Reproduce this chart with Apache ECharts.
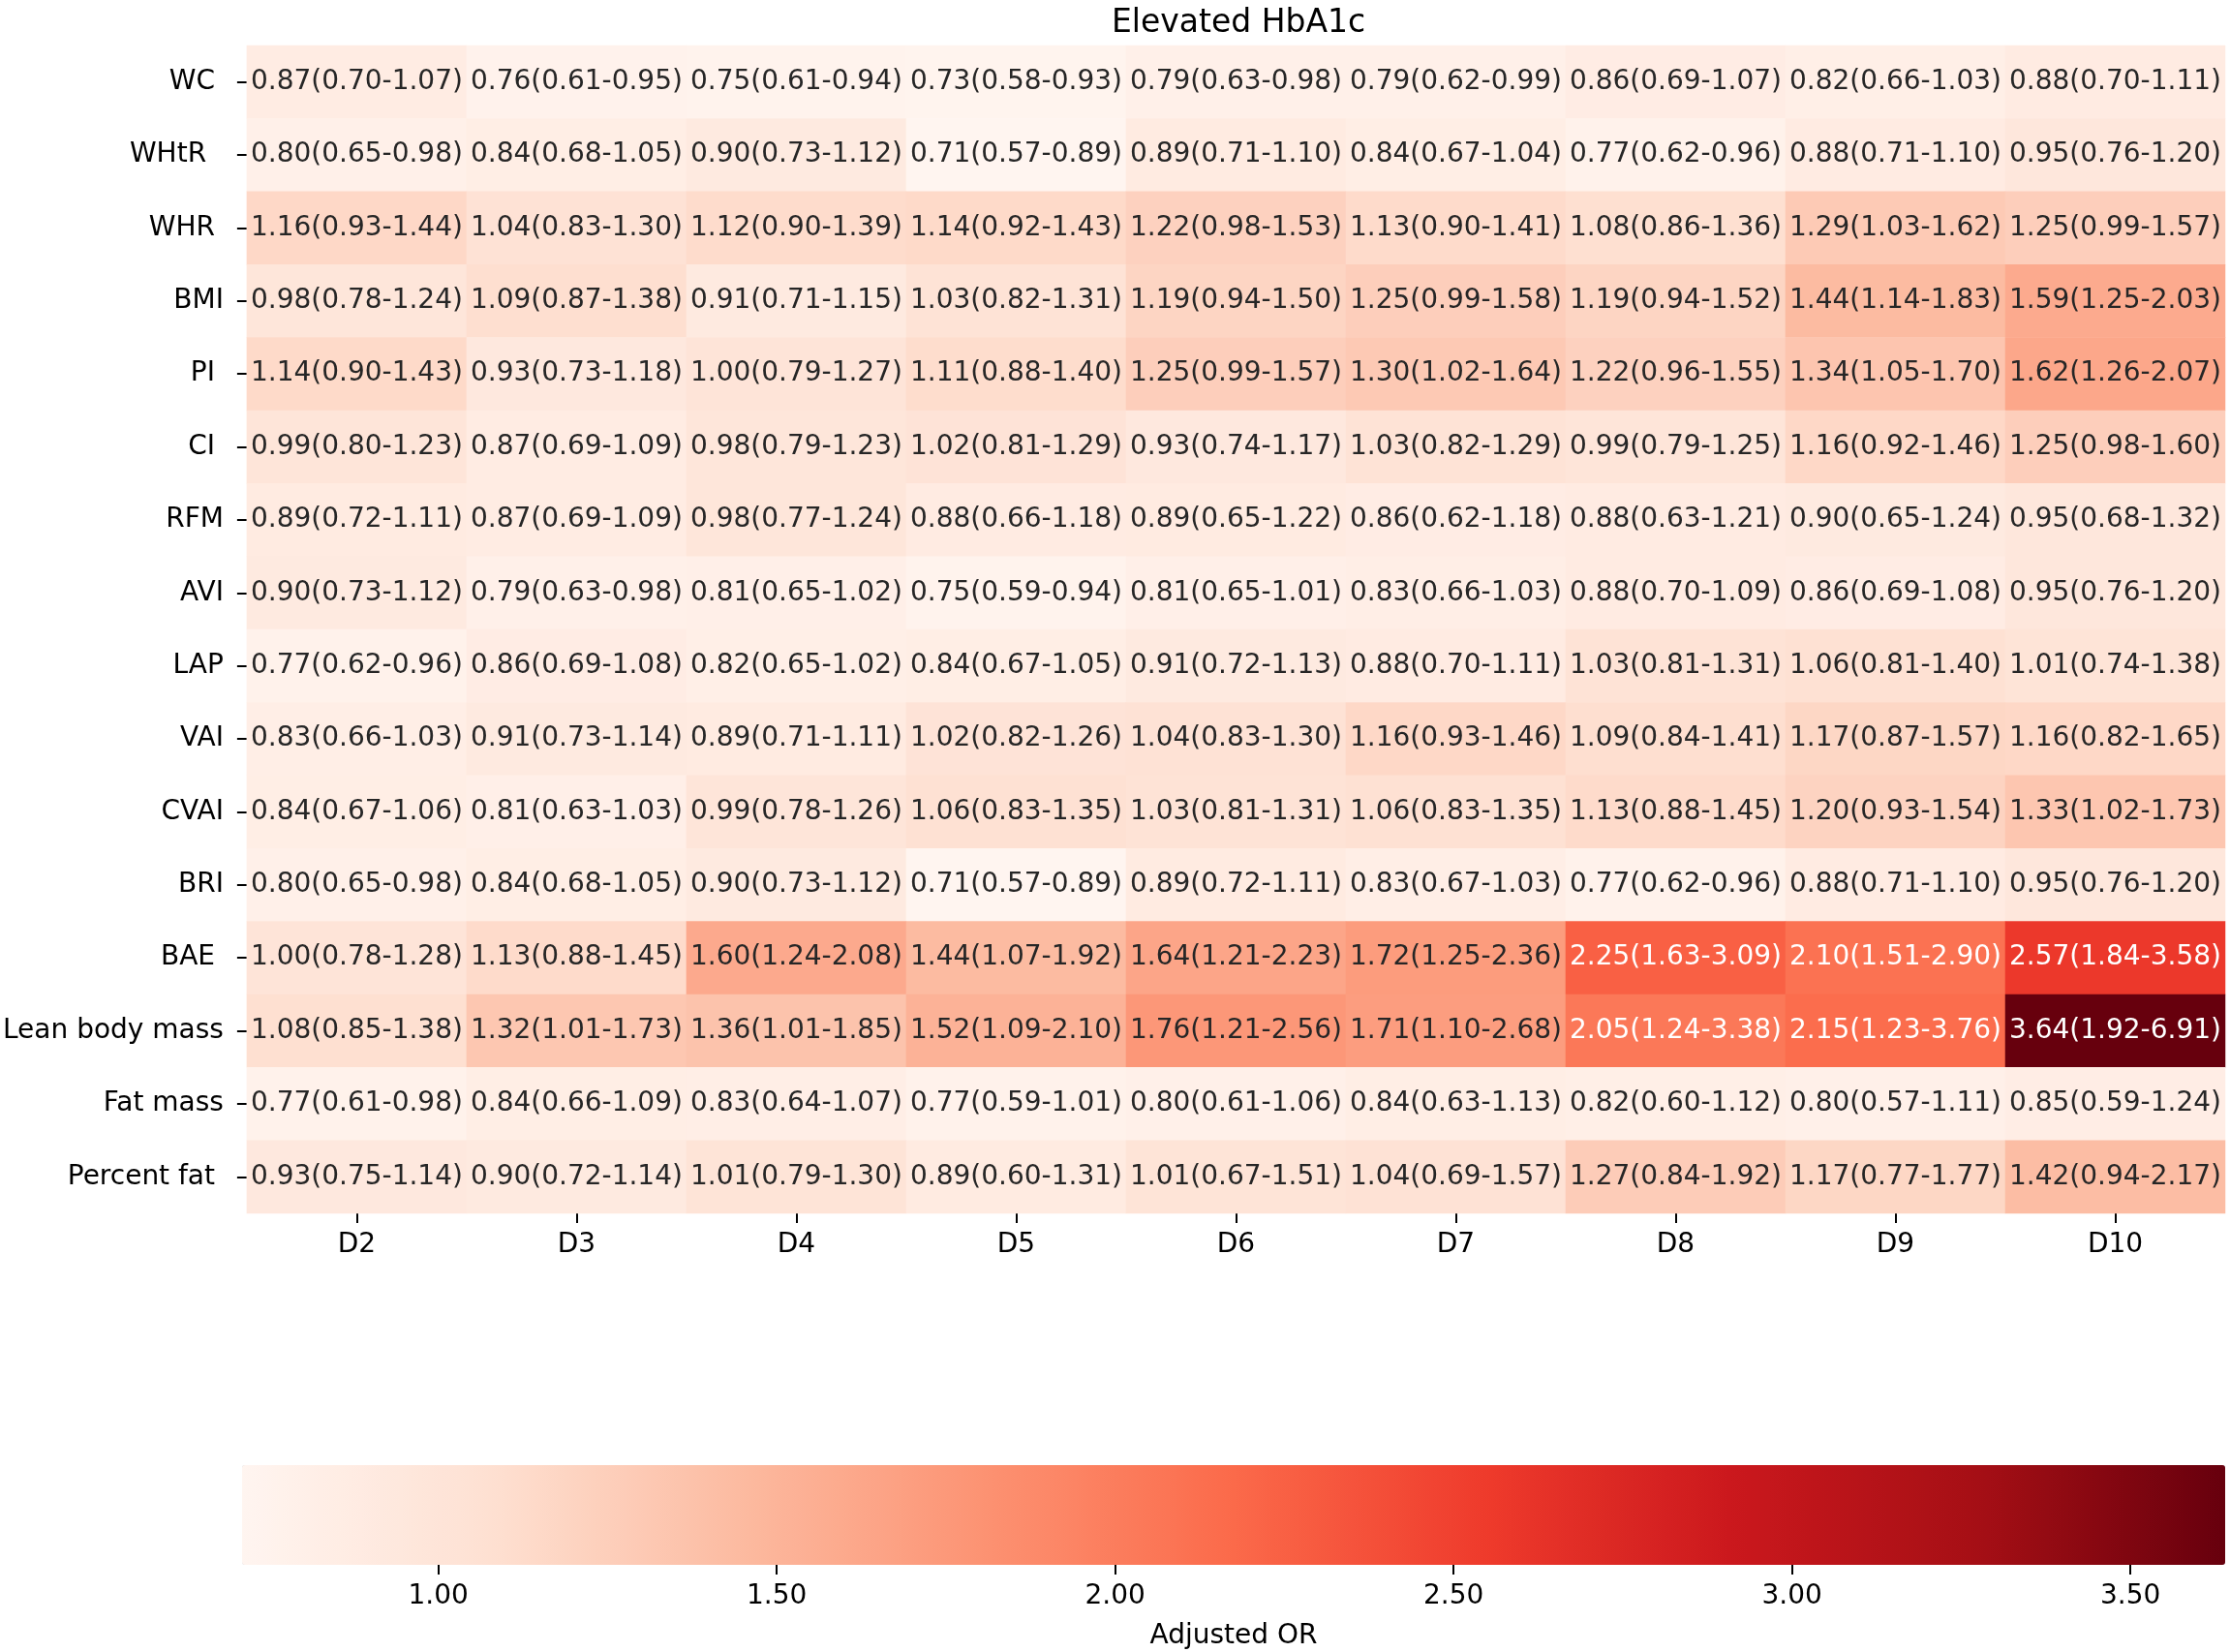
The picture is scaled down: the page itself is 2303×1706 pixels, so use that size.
<!DOCTYPE html>
<html>
<head>
<meta charset="utf-8">
<script src="https://cdn.jsdelivr.net/npm/echarts@6/dist/echarts.min.js"></script>
<style>html,body{margin:0;padding:0;background:#fff;}#chart{width:2303px;height:1706px;}</style>
</head>
<body>
<div id="chart"></div>
<script>
const titleText = 'Elevated HbA1c';
const deciles = ['D2','D3','D4','D5','D6','D7','D8','D9','D10'];
const indices = ['WC ','WHtR  ','WHR ','BMI','PI ','CI ','RFM','AVI','LAP','VAI','CVAI','BRI','BAE ','Lean body mass','Fat mass','Percent fat '];
const orValues = [
  [0.87,0.76,0.75,0.73,0.79,0.79,0.86,0.82,0.88],
  [0.80,0.84,0.90,0.71,0.89,0.84,0.77,0.88,0.95],
  [1.16,1.04,1.12,1.14,1.22,1.13,1.08,1.29,1.25],
  [0.98,1.09,0.91,1.03,1.19,1.25,1.19,1.44,1.59],
  [1.14,0.93,1.00,1.11,1.25,1.30,1.22,1.34,1.62],
  [0.99,0.87,0.98,1.02,0.93,1.03,0.99,1.16,1.25],
  [0.89,0.87,0.98,0.88,0.89,0.86,0.88,0.90,0.95],
  [0.90,0.79,0.81,0.75,0.81,0.83,0.88,0.86,0.95],
  [0.77,0.86,0.82,0.84,0.91,0.88,1.03,1.06,1.01],
  [0.83,0.91,0.89,1.02,1.04,1.16,1.09,1.17,1.16],
  [0.84,0.81,0.99,1.06,1.03,1.06,1.13,1.20,1.33],
  [0.80,0.84,0.90,0.71,0.89,0.83,0.77,0.88,0.95],
  [1.00,1.13,1.60,1.44,1.64,1.72,2.25,2.10,2.57],
  [1.08,1.32,1.36,1.52,1.76,1.71,2.05,2.15,3.64],
  [0.77,0.84,0.83,0.77,0.80,0.84,0.82,0.80,0.85],
  [0.93,0.90,1.01,0.89,1.01,1.04,1.27,1.17,1.42]
];
const ciLow = [
  [0.70,0.61,0.61,0.58,0.63,0.62,0.69,0.66,0.70],
  [0.65,0.68,0.73,0.57,0.71,0.67,0.62,0.71,0.76],
  [0.93,0.83,0.90,0.92,0.98,0.90,0.86,1.03,0.99],
  [0.78,0.87,0.71,0.82,0.94,0.99,0.94,1.14,1.25],
  [0.90,0.73,0.79,0.88,0.99,1.02,0.96,1.05,1.26],
  [0.80,0.69,0.79,0.81,0.74,0.82,0.79,0.92,0.98],
  [0.72,0.69,0.77,0.66,0.65,0.62,0.63,0.65,0.68],
  [0.73,0.63,0.65,0.59,0.65,0.66,0.70,0.69,0.76],
  [0.62,0.69,0.65,0.67,0.72,0.70,0.81,0.81,0.74],
  [0.66,0.73,0.71,0.82,0.83,0.93,0.84,0.87,0.82],
  [0.67,0.63,0.78,0.83,0.81,0.83,0.88,0.93,1.02],
  [0.65,0.68,0.73,0.57,0.72,0.67,0.62,0.71,0.76],
  [0.78,0.88,1.24,1.07,1.21,1.25,1.63,1.51,1.84],
  [0.85,1.01,1.01,1.09,1.21,1.10,1.24,1.23,1.92],
  [0.61,0.66,0.64,0.59,0.61,0.63,0.60,0.57,0.59],
  [0.75,0.72,0.79,0.60,0.67,0.69,0.84,0.77,0.94]
];
const ciHigh = [
  [1.07,0.95,0.94,0.93,0.98,0.99,1.07,1.03,1.11],
  [0.98,1.05,1.12,0.89,1.10,1.04,0.96,1.10,1.20],
  [1.44,1.30,1.39,1.43,1.53,1.41,1.36,1.62,1.57],
  [1.24,1.38,1.15,1.31,1.50,1.58,1.52,1.83,2.03],
  [1.43,1.18,1.27,1.40,1.57,1.64,1.55,1.70,2.07],
  [1.23,1.09,1.23,1.29,1.17,1.29,1.25,1.46,1.60],
  [1.11,1.09,1.24,1.18,1.22,1.18,1.21,1.24,1.32],
  [1.12,0.98,1.02,0.94,1.01,1.03,1.09,1.08,1.20],
  [0.96,1.08,1.02,1.05,1.13,1.11,1.31,1.40,1.38],
  [1.03,1.14,1.11,1.26,1.30,1.46,1.41,1.57,1.65],
  [1.06,1.03,1.26,1.35,1.31,1.35,1.45,1.54,1.73],
  [0.98,1.05,1.12,0.89,1.11,1.03,0.96,1.10,1.20],
  [1.28,1.45,2.08,1.92,2.23,2.36,3.09,2.90,3.58],
  [1.38,1.73,1.85,2.10,2.56,2.68,3.38,3.76,6.91],
  [0.98,1.09,1.07,1.01,1.06,1.13,1.12,1.11,1.24],
  [1.14,1.14,1.30,1.31,1.51,1.57,1.92,1.77,2.17]
];
const colorbarTicks = [1.0, 1.5, 2.0, 2.5, 3.0, 3.5];
const colorbarLabel = 'Adjusted OR';
const redsColors = ['#fff5f0','#fee0d2','#fcbba1','#fc9272','#fb6a4a','#ef3b2c','#cb181d','#a50f15','#67000d'];

const FONT = 'DejaVu Sans';
const allVals = orValues.flat();
const vMin = Math.min(...allVals);
const vMax = Math.max(...allVals);

const heatData = [];
orValues.forEach((row, r) => row.forEach((v, c) => {
  heatData.push({
    value: [c, r, v],
    label: { color: v >= 2.0 ? '#ffffff' : '#262626' },
    ci: [ciLow[r][c], ciHigh[r][c]]
  });
}));

const chart = echarts.init(document.getElementById('chart'), null, { renderer: 'canvas' });
const GL = 250, GW = 2048;
chart.setOption({
  backgroundColor: '#ffffff',
  animation: false,
  textStyle: { fontFamily: FONT },
  title: {
    text: titleText, left: GL + GW / 2, top: 3, textAlign: 'center',
    textStyle: { fontFamily: FONT, fontSize: 33, fontWeight: 'normal', color: '#000' }
  },
  grid: [
    { left: GL, top: 47, width: GW, height: 1206 },
    { left: GL, top: 1513, width: GW, height: 103 }
  ],
  xAxis: [
    {
      type: 'category', data: deciles, gridIndex: 0, position: 'bottom',
      axisLine: { show: false },
      axisTick: { show: true, alignWithLabel: true, length: 10, lineStyle: { color: '#000', width: 2 } },
      axisLabel: { fontFamily: FONT, fontSize: 28, color: '#000', margin: 19 },
      splitLine: { show: false }
    },
    {
      type: 'value', gridIndex: 1, min: vMin, max: vMax, position: 'bottom',
      axisLine: { show: false },
      splitLine: { show: false },
      axisTick: { show: true, customValues: colorbarTicks, length: 10, lineStyle: { color: '#000', width: 2 } },
      axisLabel: { show: true, customValues: colorbarTicks, fontFamily: FONT, fontSize: 28, color: '#000', margin: 19,
        formatter: v => v.toFixed(2) },
      name: colorbarLabel, nameLocation: 'middle', nameGap: 60,
      nameTextStyle: { fontFamily: FONT, fontSize: 28, color: '#000' }
    }
  ],
  yAxis: [
    {
      type: 'category', data: indices, gridIndex: 0, inverse: true,
      axisLine: { show: false },
      axisTick: { show: true, alignWithLabel: true, length: 10, lineStyle: { color: '#000', width: 2 } },
      axisLabel: { fontFamily: FONT, fontSize: 28, color: '#000', margin: 24 },
      splitLine: { show: false }
    },
    { type: 'value', gridIndex: 1, show: false, min: 0, max: 1 }
  ],
  visualMap: {
    type: 'continuous', seriesIndex: 0, dimension: 2,
    min: vMin, max: vMax, calculable: false, realtime: false,
    orient: 'horizontal', left: GL, top: 1513, padding: 0,
    itemWidth: 103, itemHeight: GW,
    text: null, hoverLink: false,
    inRange: { color: redsColors }
  },
  series: [{
    type: 'heatmap', xAxisIndex: 0, yAxisIndex: 0,
    data: heatData,
    itemStyle: { borderWidth: 0 },
    label: {
      show: true, fontFamily: FONT, fontSize: 28,
      formatter: p => {
        const v = p.data.value[2];
        return v.toFixed(2) + '(' + p.data.ci[0].toFixed(2) + '-' + p.data.ci[1].toFixed(2) + ')';
      }
    },
    emphasis: { disabled: true }
  }]
});
</script>
</body>
</html>
